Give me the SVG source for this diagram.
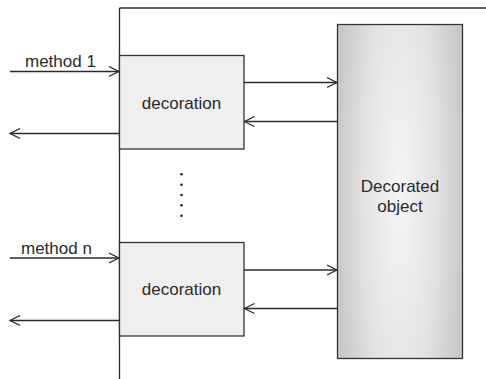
<svg xmlns="http://www.w3.org/2000/svg" width="486" height="379" viewBox="0 0 486 379">
<defs>
<style>
.ln{stroke:#2b2b2b;stroke-width:1.3;fill:none}
.box{fill:#efefef;stroke:#333;stroke-width:1.3}
.t{font-family:"Liberation Sans",Arial,sans-serif;font-size:17px;fill:#2b2b2b}
.dot{fill:#222}
</style>
<radialGradient id="g" cx="0.5" cy="0.5" r="0.5" gradientTransform="translate(0.5 0.5) scale(1 2.2) translate(-0.5 -0.5)">
<stop offset="0" stop-color="#f5f5f5"/>
<stop offset="0.6" stop-color="#e2e2e2"/>
<stop offset="1" stop-color="#c9c9c9"/>
</radialGradient>
<marker id="a" markerWidth="12" markerHeight="12" refX="10" refY="6" orient="auto" markerUnits="userSpaceOnUse">
<path d="M0,1 L10,6 L0,11" fill="none" stroke="#2b2b2b" stroke-width="1.2"/>
</marker>
</defs>
<g id="frame">
<line class="ln" x1="119.5" y1="8" x2="119.5" y2="379"/>
<line class="ln" x1="119.5" y1="8" x2="486" y2="8"/>
</g>
<g id="decoration1">
<rect class="box" x="119.5" y="55.5" width="124.5" height="93.5"/>
<text class="t" x="181.5" y="108.5" text-anchor="middle">decoration</text>
</g>
<g id="decoration2">
<rect class="box" x="119.5" y="242.5" width="124.5" height="93.5"/>
<text class="t" x="181.5" y="295" text-anchor="middle">decoration</text>
</g>
<g id="decorated-object">
<rect x="337.5" y="24.5" width="125" height="334" fill="url(#g)" stroke="#333" stroke-width="1.3"/>
<text class="t" x="400" y="191.5" text-anchor="middle">Decorated</text>
<text class="t" x="400" y="211.5" text-anchor="middle">object</text>
</g>
<g id="ellipsis">
<circle class="dot" cx="181.5" cy="174.3" r="1.3"/>
<circle class="dot" cx="181.5" cy="184.7" r="1.3"/>
<circle class="dot" cx="181.5" cy="195" r="1.3"/>
<circle class="dot" cx="181.5" cy="205.3" r="1.3"/>
<circle class="dot" cx="181.5" cy="215.7" r="1.3"/>
</g>
<g id="labels">
<text class="t" x="25" y="66.7">method 1</text>
<text class="t" x="21" y="254">method n</text>
</g>
<g id="connectors">
<line class="ln" x1="10" y1="71.5" x2="119" y2="71.5" marker-end="url(#a)"/>
<line class="ln" x1="119.5" y1="133.5" x2="10" y2="133.5" marker-end="url(#a)"/>
<line class="ln" x1="10" y1="258" x2="119" y2="258" marker-end="url(#a)"/>
<line class="ln" x1="119.5" y1="320.5" x2="10" y2="320.5" marker-end="url(#a)"/>
<line class="ln" x1="244" y1="82.5" x2="337" y2="82.5" marker-end="url(#a)"/>
<line class="ln" x1="337.5" y1="121.5" x2="244.5" y2="121.5" marker-end="url(#a)"/>
<line class="ln" x1="244" y1="270" x2="337" y2="270" marker-end="url(#a)"/>
<line class="ln" x1="337.5" y1="308.5" x2="244.5" y2="308.5" marker-end="url(#a)"/>
</g>
</svg>
